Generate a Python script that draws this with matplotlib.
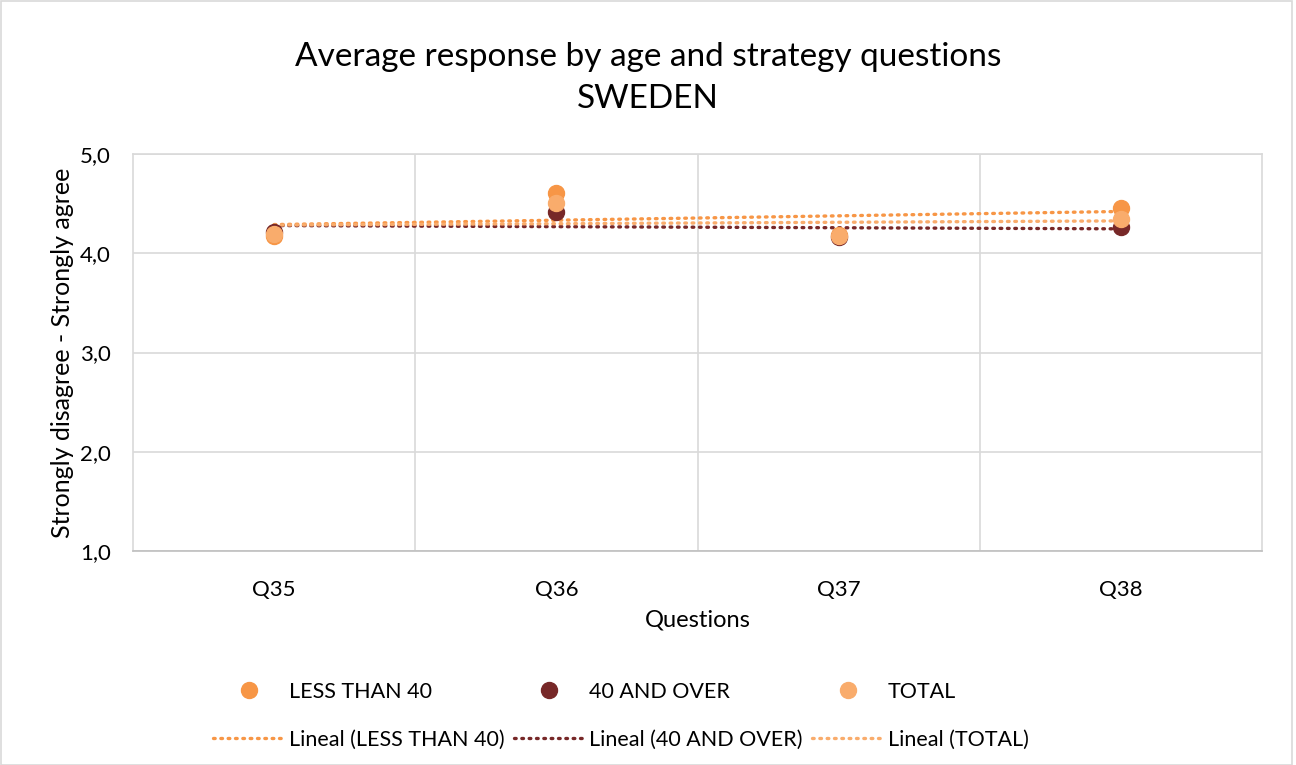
import matplotlib
matplotlib.use("Agg")
import matplotlib.pyplot as plt
import numpy as np
from matplotlib.lines import Line2D
from matplotlib.patches import Rectangle

plt.rcParams['font.family'] = ['Lato', 'DejaVu Sans']

questions = ["Q35", "Q36", "Q37", "Q38"]
less_than_40 = [4.17, 4.61, 4.18, 4.46]
forty_and_over = [4.21, 4.42, 4.16, 4.26]
total = [4.19, 4.51, 4.17, 4.35]
series_names = ["LESS THAN 40", "40 AND OVER", "TOTAL"]
colors = ["#F79646", "#772828", "#F9AC6C"]

fig = plt.figure(figsize=(12.96, 7.65), dpi=100)
ax = fig.add_axes([133/1296, 1 - 551/765, (1262-133)/1296, (551-154)/765])

x = np.arange(len(questions))
dot = (0, (0.5, 1.7))
handles_pts = []
handles_tr = []
for vals, name, c in zip([less_than_40, forty_and_over, total], series_names, colors):
    ax.plot(x, vals, linestyle='none', marker='o', markersize=11.5, color=c, zorder=3)
    k, b = np.polyfit(x, vals, 1)
    ax.plot(x, k * x + b, linestyle=dot, dash_capstyle='round', linewidth=2.4, color=c, zorder=2)
    handles_pts.append(Line2D([], [], linestyle='none', marker='o', markersize=11.5, color=c, label=name))
    handles_tr.append(Line2D([], [], linestyle=dot, dash_capstyle='round', linewidth=2.4, color=c,
                             label=f"Lineal ({name})"))

ax.set_xlim(-0.5, 3.5)
ax.set_ylim(1.0, 5.0)
ax.set_yticks([1, 2, 3, 4, 5])
ax.set_yticklabels(["1,0", "2,0", "3,0", "4,0", "5,0"])
ax.set_xticks(x)
ax.set_xticklabels(questions)
ax.set_xticks([0.5, 1.5, 2.5], minor=True)
ax.tick_params(axis='both', which='both', length=0, labelsize=16, colors='#000000')
ax.tick_params(axis='y', pad=16)
ax.tick_params(axis='x', pad=21)
ax.grid(True, axis='y', which='major', color='#D9D9D9', linewidth=1.2)
ax.grid(True, axis='x', which='minor', color='#D9D9D9', linewidth=1.2)
ax.set_axisbelow(True)
for s in ['top', 'left', 'right']:
    ax.spines[s].set_color('#D9D9D9')
    ax.spines[s].set_linewidth(1.2)
ax.spines['bottom'].set_color('#BFBFBF')
ax.spines['bottom'].set_linewidth(1.2)

ax.set_ylabel("Strongly disagree - Strongly agree", fontsize=18, labelpad=4)
ax.set_xlabel("Questions", fontsize=17, labelpad=7)

fig.text(648/1296, 1 - 78/765, "Average response by age and strategy questions\nSWEDEN",
         ha='center', va='center', fontsize=24, linespacing=1.5)

handles = [handles_pts[0], handles_tr[0], handles_pts[1], handles_tr[1], handles_pts[2], handles_tr[2]]
fig.legend(handles=handles, ncol=3, loc='center', bbox_to_anchor=(621/1296, 1 - 716/765),
           frameon=False, fontsize=15.5, handlelength=3.3, handletextpad=0.2,
           columnspacing=0.45, labelspacing=1.3, borderpad=0)

fig.patches.append(Rectangle((0.5/1296, 0.5/765), 1291/1296, 0.998, transform=fig.transFigure,
                             fill=False, edgecolor='#D9D9D9', linewidth=1.2))

fig.savefig("out.png", dpi=100)
